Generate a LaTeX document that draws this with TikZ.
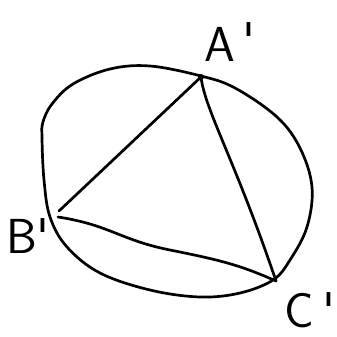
\documentclass[tikz,border=0pt]{standalone}
\usetikzlibrary{positioning}
\tikzset{
	pen/.style={line width=2.3pt, line cap=round, line join=round},
	lbl/.style={font=\fontsize{42}{46}\selectfont\sffamily, inner sep=1pt}
}
\begin{document}
\begin{tikzpicture}[x=0.03cm,y=-0.03cm]
		\useasboundingbox (0,0) rectangle (337,337);
		
		\coordinate (A) at (201,77);
		\coordinate (B) at (59,211);
		\coordinate (Bl) at (58,217);
		\coordinate (C) at (276,281);
		
		\draw[pen] plot[smooth cycle, tension=.6] coordinates {(42,138) (43,122) (52,104) (73,84) (110,69) (150,66) (201,76) (235,88) (277,117) (300,148) (312,187) (307,227) (290,260) (273,280) (240,293) (200,297) (150,290) (100,273) (67,247) (50,217) (44,180)};%cercle
		
		\draw[pen] (B) -- (A);
		\draw[pen] (A) .. controls (205,110) and (235,160) .. (C);
		\draw[pen] (Bl) .. controls (110,225) and (120,240) .. (170,250) .. controls (220,260) and (240,265) .. (C);
		\fill (A) circle (3);
		
		\node[lbl] (nA) at (230,42) {A\hspace{6pt}\raisebox{4pt}{\textquotesingle}};
		\node[lbl] (nB) at (28,236) {B\textquotesingle};
		\node[lbl] (nC) at (310,310) {C\,\textquotesingle};
		
	\end{tikzpicture}
\end{document}
